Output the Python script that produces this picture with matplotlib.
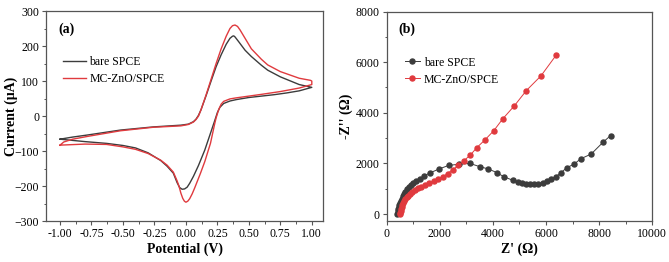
import numpy as np
import matplotlib
matplotlib.use("Agg")
from matplotlib import pyplot as plt
from matplotlib.ticker import MultipleLocator

plt.rcParams["font.family"] = ["Liberation Serif", "DejaVu Serif"]
plt.rcParams["font.size"] = 8

# ---- CV data (a) ----
E_bare = [-1.0, -0.9, -0.78, -0.52, -0.26, -0.04, 0.02, 0.06, 0.08, 0.1, 0.12, 0.16, 0.2, 0.24, 0.28, 0.32,
          0.35, 0.37, 0.38, 0.39, 0.42, 0.47, 0.52, 0.6, 0.65, 0.75, 0.9, 1.0,
          1.0, 0.9, 0.8, 0.7, 0.6, 0.5, 0.4, 0.35, 0.3, 0.27, 0.25, 0.23, 0.2, 0.15, 0.1, 0.06, 0.03,
          0.01, -0.01, -0.03, -0.05, -0.07, -0.1, -0.15, -0.2, -0.3, -0.4, -0.5, -0.63, -0.8, -1.0]
I_bare = [-66, -60, -54, -40, -31, -26, -23, -16, -9, 2, 18, 58, 100, 141, 175, 205,
          222, 228, 229, 226, 212, 188, 170, 145, 131, 112, 90, 82,
          82, 72, 66, 61, 57, 53, 47, 43, 36, 25, 10, -12, -44, -97, -141, -172, -192,
          -203, -208, -209, -204, -190, -163, -143, -127, -105, -91, -84, -78, -73, -66]

E_mc = [-1.0, -0.97, -0.9, -0.78, -0.52, -0.26, -0.04, 0.02, 0.06, 0.08, 0.1, 0.12, 0.16, 0.2, 0.24, 0.28,
        0.32, 0.35, 0.37, 0.39, 0.41, 0.43, 0.47, 0.52, 0.6, 0.65, 0.75, 0.9, 0.99, 1.0,
        1.0, 0.9, 0.75, 0.6, 0.5, 0.4, 0.35, 0.3, 0.28, 0.26, 0.24, 0.23, 0.195, 0.15, 0.115, 0.07, 0.05,
        0.03, 0.015, 0.0, -0.012, -0.025, -0.04, -0.055, -0.07, -0.1, -0.15, -0.2, -0.3, -0.4, -0.5,
        -0.63, -0.8, -1.0]
I_mc = [-83, -74, -66, -58, -42, -32, -28, -24, -17, -10, 0, 18, 60, 105, 150, 192,
        228, 250, 258, 260, 256, 246, 222, 192, 162, 146, 127, 108, 102, 100,
        90, 80, 70, 62, 57, 52, 49, 42, 34, 18, -5, -20, -78, -130, -164, -205, -222,
        -236, -243, -246, -243, -235, -220, -200, -185, -160, -140, -126, -107, -95, -88,
        -81, -80, -83]

# ---- EIS data (b) ----
Zre_bare = [400, 410, 425, 440, 460, 480, 505, 530, 565, 605, 650, 700, 760, 830, 910, 1000, 1110, 1250,
            1400, 1620, 1970, 2330, 2730, 3130, 3510, 3830, 4140, 4400, 4755, 4930, 5090, 5250, 5400,
            5560, 5710, 5870, 6030, 6190, 6370, 6560, 6780, 7070, 7300, 7700, 8150, 8430]
Zim_bare = [0, 60, 130, 200, 280, 360, 440, 520, 610, 700, 790, 880, 970, 1060, 1150, 1230, 1300, 1400,
            1500, 1620, 1780, 1920, 1970, 2000, 1870, 1780, 1640, 1480, 1330, 1260, 1220, 1190, 1170,
            1170, 1190, 1240, 1300, 1380, 1480, 1630, 1830, 1980, 2180, 2370, 2840, 3100]

Zre_mc = [510, 520, 535, 550, 570, 595, 625, 660, 700, 750, 810, 880, 960, 1060, 1180, 1310, 1460, 1610,
          1770, 1940, 2110, 2290, 2480, 2700, 2910, 3150, 3390, 3700, 4030, 4370, 4810, 5260, 5810, 6390]
Zim_mc = [0, 60, 130, 200, 280, 360, 440, 520, 590, 660, 730, 800, 870, 940, 1010, 1080, 1150, 1220,
          1290, 1370, 1470, 1600, 1750, 1920, 2110, 2330, 2620, 2930, 3290, 3760, 4280, 4880, 5460, 6290]

c_black = "#3c3c3c"
c_red = "#e03a3e"
spine_c = "#555555"

fig = plt.figure(figsize=(6.69, 2.62), dpi=100)
ax1 = fig.add_axes([0.069, 0.156, 0.414, 0.802])
ax2 = fig.add_axes([0.578, 0.156, 0.397, 0.800])

ax1.plot(E_bare, I_bare, color=c_black, lw=1.0, label="bare SPCE")
ax1.plot(E_mc, I_mc, color=c_red, lw=1.0, label="MC-ZnO/SPCE")
ax1.set_xlim(-1.11, 1.09)
ax1.set_ylim(-300, 300)
ax1.xaxis.set_major_locator(MultipleLocator(0.25))
ax1.xaxis.set_minor_locator(MultipleLocator(0.125))
ax1.yaxis.set_major_locator(MultipleLocator(100))
ax1.yaxis.set_minor_locator(MultipleLocator(50))
ax1.xaxis.set_major_formatter(matplotlib.ticker.FormatStrFormatter("%.2f"))
ax1.set_xlabel("Potential (V)", fontsize=10, fontweight="bold", labelpad=2)
ax1.set_ylabel("Current (\u03bcA)", fontsize=10, fontweight="bold")
ax1.yaxis.set_label_coords(-0.102, 0.5)
ax1.text(0.044, 0.915, "(a)", transform=ax1.transAxes, fontsize=10, fontweight="bold", va="center")
ax1.legend(loc="upper left", bbox_to_anchor=(0.062, 0.785), frameon=False, fontsize=8.5,
           handlelength=1.9, handletextpad=0.3, labelspacing=0.42, borderpad=0, borderaxespad=0)

ax2.plot(Zre_bare, Zim_bare, color=c_black, lw=0.7, marker="o", ms=3.6, label="bare SPCE")
ax2.plot(Zre_mc, Zim_mc, color=c_red, lw=0.7, marker="o", ms=3.6, label="MC-ZnO/SPCE")
ax2.set_xlim(0, 10000)
ax2.set_ylim(-280, 8000)
ax2.xaxis.set_major_locator(MultipleLocator(2000))
ax2.xaxis.set_minor_locator(MultipleLocator(1000))
ax2.yaxis.set_major_locator(MultipleLocator(2000))
ax2.yaxis.set_minor_locator(MultipleLocator(1000))
ax2.set_xlabel("Z' (\u03a9)", fontsize=10, fontweight="bold", labelpad=2)
ax2.set_ylabel("-Z'' (\u03a9)", fontsize=10, fontweight="bold")
ax2.yaxis.set_label_coords(-0.128, 0.5)
ax2.text(0.045, 0.915, "(b)", transform=ax2.transAxes, fontsize=10, fontweight="bold", va="center")
ax2.legend(loc="upper left", bbox_to_anchor=(0.068, 0.785), frameon=False, fontsize=8.5,
           handlelength=1.3, handletextpad=0.3, labelspacing=0.42, borderpad=0, borderaxespad=0)

for ax in (ax1, ax2):
    for sp in ax.spines.values():
        sp.set_color(spine_c)
        sp.set_linewidth(0.9)
    ax.tick_params(which="major", direction="out", length=3, width=0.8, color=spine_c, labelsize=8.5, pad=2)
    ax.tick_params(which="minor", direction="out", length=1.8, width=0.7, color=spine_c)

plt.savefig("out.png", dpi=100)
